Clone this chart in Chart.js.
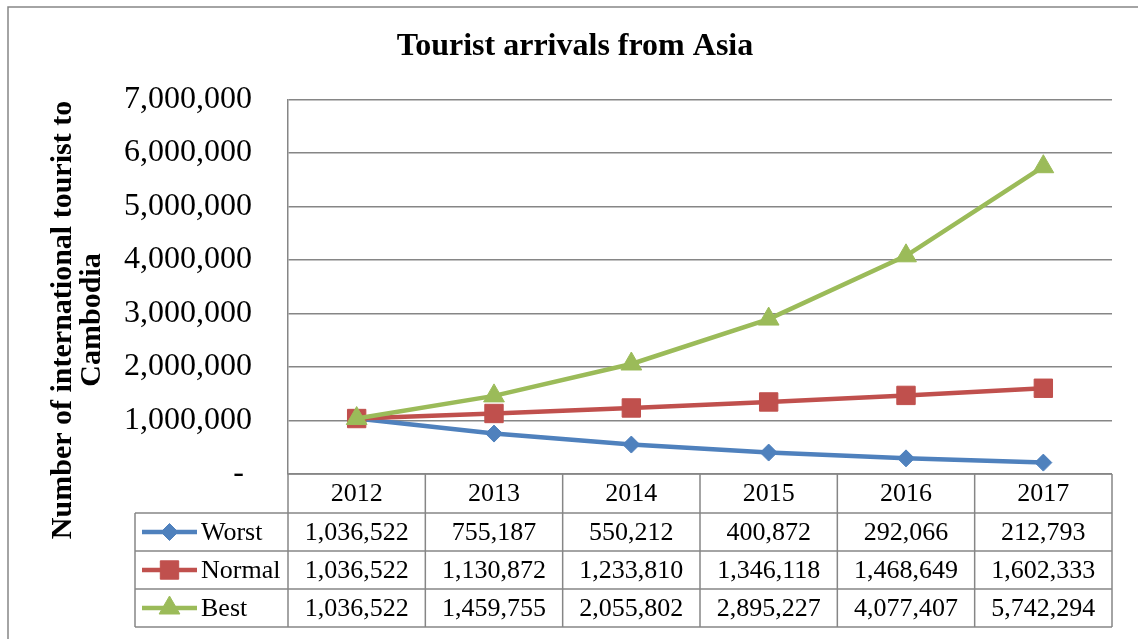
<!DOCTYPE html>
<html>
<head>
<meta charset="utf-8">
<script src="https://cdn.jsdelivr.net/npm/chart.js"></script>
<style>
  body { margin: 0; background: #fff; }
  #wrap { width: 1138px; height: 639px; }
</style>
</head>
<body>
<div id="wrap"><canvas id="tourChart" width="1138" height="639"></canvas></div>
<script>
var years = ["2012", "2013", "2014", "2015", "2016", "2017"];
var worst = [1036522, 755187, 550212, 400872, 292066, 212793];
var normal = [1036522, 1130872, 1233810, 1346118, 1468649, 1602333];
var best = [1036522, 1459755, 2055802, 2895227, 4077407, 5742294];
var seriesNames = ["Worst", "Normal", "Best"];
var yTitleLines = ["Number of international tourist to", "Cambodia"];

var serif = "'Liberation Serif', 'Times New Roman', serif";
var gridColor = "#868686";

function fmt(v) { return v.toLocaleString("en-US"); }

// draws the frame, the y title and the data table under the plot
var tablePlugin = {
    id: "dataTable",
    afterLayout: function (chart) {
        // title is centred on the whole frame, not the plot
        if (chart.titleBlock) chart.titleBlock.right += 38;
    },
    afterDraw: function (chart) {
        var ctx = chart.ctx;
        var area = chart.chartArea;
        var xs = chart.scales.x;
        var colW = (area.right - area.left) / years.length;
        var rows = [area.bottom, 513, 551, 589, 627];
        var legLeft = 135;

        ctx.save();
        // outer frame (left + top edges only are in view)
        ctx.strokeStyle = gridColor;
        ctx.lineWidth = 1.5;
        ctx.beginPath();
        ctx.moveTo(8, 700); ctx.lineTo(8, 7); ctx.lineTo(1200, 7);
        ctx.stroke();

        // table grid
        ctx.beginPath();
        ctx.moveTo(area.left, rows[0]); ctx.lineTo(area.right, rows[0]);
        for (var r = 1; r < rows.length; r++) {
            ctx.moveTo(legLeft, rows[r]); ctx.lineTo(area.right, rows[r]);
        }
        for (var c = 0; c <= years.length; c++) {
            var x = area.left + c * colW;
            ctx.moveTo(x, rows[0]); ctx.lineTo(x, rows[4]);
        }
        ctx.moveTo(legLeft, rows[1]); ctx.lineTo(legLeft, rows[4]);
        ctx.stroke();

        // header + values
        ctx.fillStyle = "#000";
        ctx.font = "26px " + serif;
        ctx.textAlign = "center";
        ctx.textBaseline = "middle";
        years.forEach(function (y, i) {
            ctx.fillText(y, xs.getPixelForValue(i), (rows[0] + rows[1]) / 2 + 1);
        });
        chart.data.datasets.forEach(function (ds, d) {
            var cy = (rows[d + 1] + rows[d + 2]) / 2 + 1;
            ds.data.forEach(function (v, i) {
                ctx.fillText(fmt(v), xs.getPixelForValue(i), cy);
            });
            // legend key
            ctx.strokeStyle = ds.borderColor;
            ctx.lineWidth = ds.borderWidth;
            ctx.beginPath();
            ctx.moveTo(142, cy - 1); ctx.lineTo(197, cy - 1);
            ctx.stroke();
            ctx.fillStyle = ds.pointBackgroundColor;
            ctx.strokeStyle = ds.pointBorderColor;
            ctx.lineWidth = 1;
            Chart.helpers.drawPoint(ctx, {
                pointStyle: ds.pointStyle,
                radius: ds.pointRadius,
                rotation: 0,
                borderWidth: 1
            }, 169.5, cy - 1);
            ctx.fillStyle = "#000";
            ctx.textAlign = "left";
            ctx.fillText(ds.label, 201, cy);
            ctx.textAlign = "center";
        });

        // y axis title
        ctx.font = "bold 30px " + serif;
        ctx.translate(0, 320);
        ctx.rotate(-Math.PI / 2);
        ctx.fillText(yTitleLines[0], 0, 63);
        ctx.fillText(yTitleLines[1], 0, 92);
        ctx.restore();
    }
};

function lineSet(label, data, color, style, radius, order) {
    return {
        label: label,
        data: data,
        borderColor: color,
        backgroundColor: color,
        pointBackgroundColor: color,
        pointBorderColor: color,
        borderWidth: 4.5,
        pointStyle: style,
        pointRadius: radius,
        pointBorderWidth: 1,
        tension: 0,
        order: order
    };
}

new Chart(document.getElementById("tourChart").getContext("2d"), {
    type: "line",
    data: {
        labels: years,
        datasets: [
            lineSet(seriesNames[0], worst, "#4F81BD", "rectRot", 8.5, 3),
            lineSet(seriesNames[1], normal, "#C0504D", "rect", 13, 2),
            lineSet(seriesNames[2], best, "#9BBB59", "triangle", 12, 1)
        ]
    },
    options: {
        responsive: false,
        animation: false,
        layout: { padding: { left: 0, right: 26, top: 0, bottom: 165 } },
        plugins: {
            legend: { display: false },
            tooltip: { enabled: false },
            title: {
                display: true,
                text: "Tourist arrivals from Asia",
                color: "#000",
                font: { family: serif, size: 32, weight: "bold" },
                padding: { top: 28, bottom: 33 }
            }
        },
        scales: {
            x: {
                display: false,
                offset: true
            },
            y: {
                min: 0,
                max: 7000000,
                afterFit: function (scale) { scale.width = 288; },
                ticks: {
                    stepSize: 1000000,
                    padding: 36,
                    color: "#000",
                    font: { family: serif, size: 32 },
                    callback: function (v) { return v === 0 ? "- " : fmt(v); }
                },
                grid: { color: gridColor, lineWidth: 1.5, drawTicks: false },
                border: { display: true, color: gridColor, width: 1.5 }
            }
        }
    },
    plugins: [tablePlugin]
});
</script>
</body>
</html>
